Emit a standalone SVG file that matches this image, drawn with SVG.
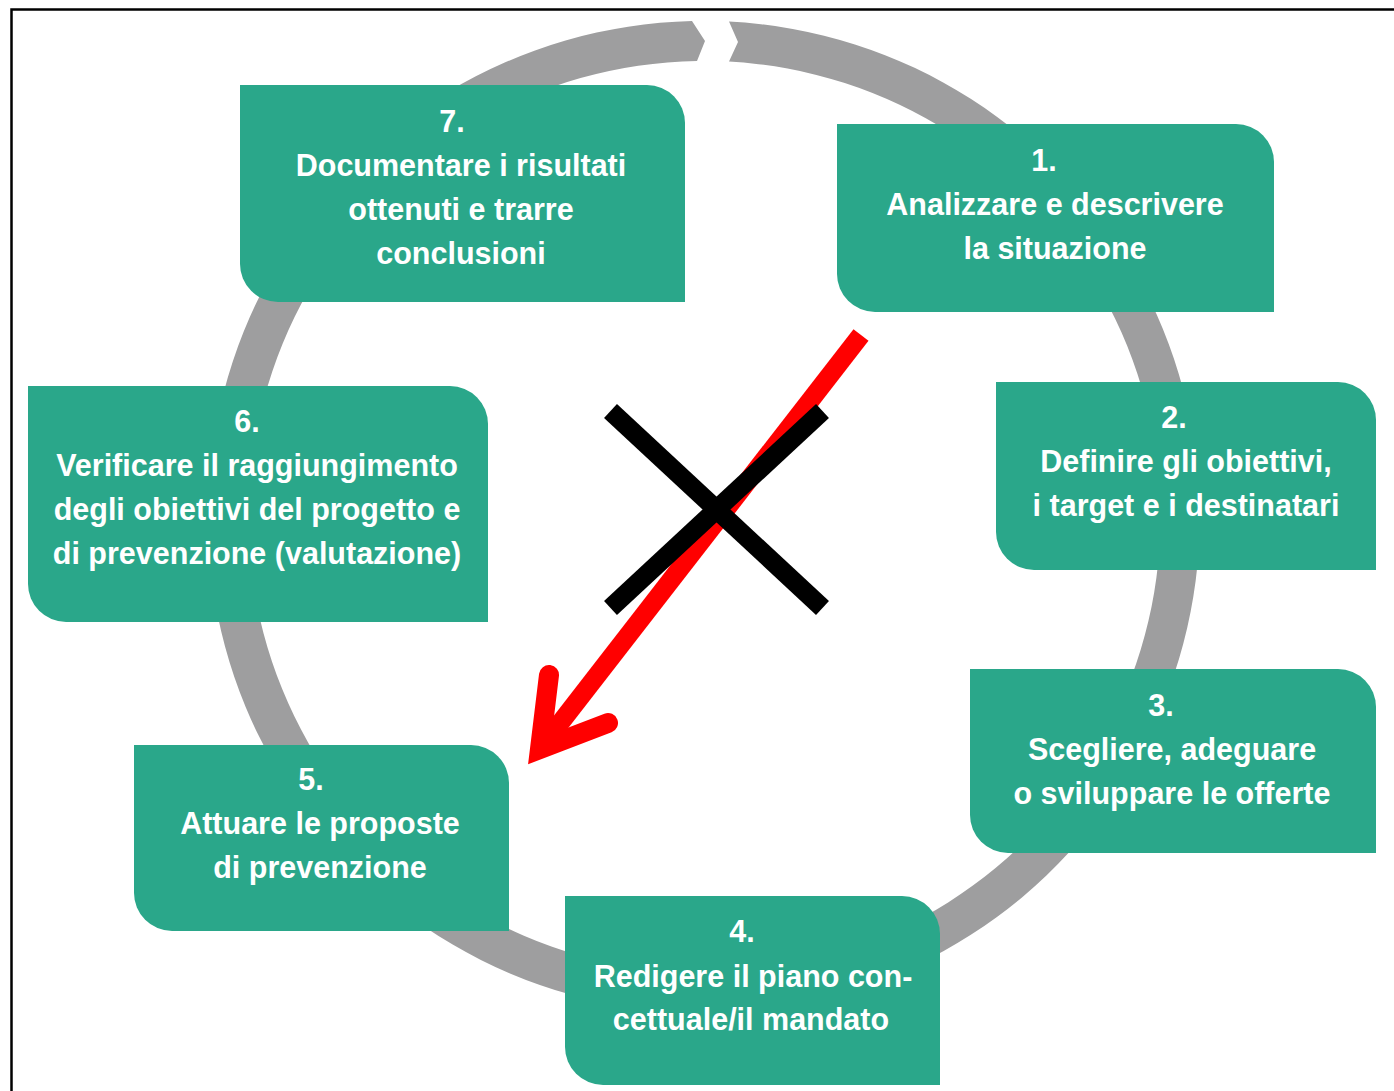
<svg xmlns="http://www.w3.org/2000/svg" width="1394" height="1091" viewBox="0 0 1394 1091">
<style>
.box{fill:#2aa78a}
.t{fill:#ffffff;font-family:"Liberation Sans",Arial,sans-serif;font-weight:bold;font-size:30.5px;text-anchor:middle}
</style>
<rect x="0" y="0" width="1394" height="1091" fill="#ffffff"/>
<rect x="11.5" y="9.5" width="1400" height="1100" fill="none" stroke="#000000" stroke-width="2.5"/>
<g id="connectors">
<path id="cycle-ring" fill="#9e9e9f" d="M 729,21.5 A 496 496 0 1 1 692,21 L 705,41 L 697,61 A 456 456 0 1 0 729,61.6 L 738,42 Z"/>
</g>
<g id="node7">
<path class="box" d="M 240,85 H 647 A 38 38 0 0 1 685,123 V 302 H 278 A 38 38 0 0 1 240,264 Z"/>
<text class="t" x="452" y="132">7.</text>
<text class="t" x="461" y="176">Documentare i risultati</text>
<text class="t" x="461" y="220">ottenuti e trarre</text>
<text class="t" x="461" y="264">conclusioni</text>
</g>
<g id="node1">
<path class="box" d="M 837,124 H 1236 A 38 38 0 0 1 1274,162 V 312 H 875 A 38 38 0 0 1 837,274 Z"/>
<text class="t" x="1044" y="171">1.</text>
<text class="t" x="1055" y="215">Analizzare e descrivere</text>
<text class="t" x="1055" y="259">la situazione</text>
</g>
<g id="node2">
<path class="box" d="M 996,382 H 1338 A 38 38 0 0 1 1376,420 V 570 H 1034 A 38 38 0 0 1 996,532 Z"/>
<text class="t" x="1174" y="428">2.</text>
<text class="t" x="1186" y="472">Definire gli obiettivi,</text>
<text class="t" x="1186" y="516">i target e i destinatari</text>
</g>
<g id="node3">
<path class="box" d="M 970,669 H 1338 A 38 38 0 0 1 1376,707 V 853 H 1008 A 38 38 0 0 1 970,815 Z"/>
<text class="t" x="1161" y="716">3.</text>
<text class="t" x="1172" y="760">Scegliere, adeguare</text>
<text class="t" x="1172" y="804">o sviluppare le offerte</text>
</g>
<g id="node4">
<path class="box" d="M 565,896 H 902 A 38 38 0 0 1 940,934 V 1085 H 603 A 38 38 0 0 1 565,1047 Z"/>
<text class="t" x="742" y="942">4.</text>
<text class="t" x="753" y="987">Redigere il piano con-</text>
<text class="t" x="751" y="1030">cettuale/il mandato</text>
</g>
<g id="node5">
<path class="box" d="M 134,745 H 471 A 38 38 0 0 1 509,783 V 931 H 172 A 38 38 0 0 1 134,893 Z"/>
<text class="t" x="311" y="790">5.</text>
<text class="t" x="320" y="834">Attuare le proposte</text>
<text class="t" x="320" y="878">di prevenzione</text>
</g>
<g id="node6">
<path class="box" d="M 28,386 H 450 A 38 38 0 0 1 488,424 V 622 H 66 A 38 38 0 0 1 28,584 Z"/>
<text class="t" x="247" y="432">6.</text>
<text class="t" x="257" y="476">Verificare il raggiungimento</text>
<text class="t" x="257" y="520">degli obiettivi del progetto e</text>
<text class="t" x="257" y="564">di prevenzione (valutazione)</text>
</g>
<g id="annotation">
<line x1="861" y1="335" x2="540" y2="749" stroke="#ff0000" stroke-width="19" stroke-linecap="butt"/>
<polyline points="549,675 540,749 608,723" fill="none" stroke="#ff0000" stroke-width="20" stroke-linecap="round" stroke-linejoin="miter" stroke-miterlimit="10"/>
<line x1="610.5" y1="411" x2="822.5" y2="608" stroke="#000000" stroke-width="19"/>
<line x1="822.5" y1="411" x2="610.5" y2="608" stroke="#000000" stroke-width="19"/>
</g>
</svg>
